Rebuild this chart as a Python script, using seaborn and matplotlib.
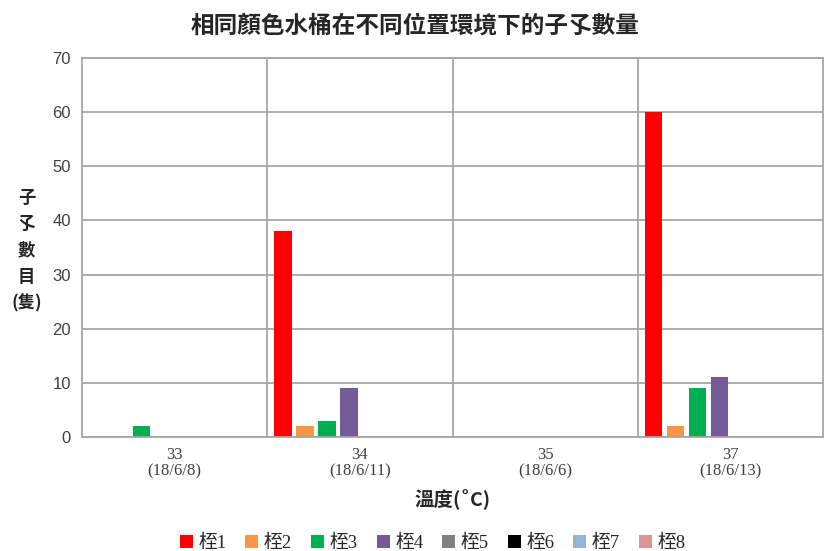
import matplotlib
matplotlib.use("Agg")
import matplotlib.pyplot as plt
import seaborn as sns
import pandas as pd

# Data
categories = ["33\n(18/6/8)", "34\n(18/6/11)", "35\n(18/6/6)", "37\n(18/6/13)"]
series = ["桎1", "桎2", "桎3", "桎4", "桎5", "桎6", "桎7", "桎8"]
values = {
    "桎1": [0, 38, 0, 60],
    "桎2": [0, 2, 0, 2],
    "桎3": [2, 3, 0, 9],
    "桎4": [0, 9, 0, 11],
    "桎5": [0, 0, 0, 0],
    "桎6": [0, 0, 0, 0],
    "桎7": [0, 0, 0, 0],
    "桎8": [0, 0, 0, 0],
}
colors = ["#FF0000", "#F79646", "#00B050", "#735B97",
          "#808080", "#000000", "#95B3D7", "#D99694"]
yticks = [0, 10, 20, 30, 40, 50, 60, 70]

rows = [(c, s, values[s][i]) for s in series for i, c in enumerate(categories)]
df = pd.DataFrame(rows, columns=["cat", "series", "value"])

sns.set_theme(style="white")
plt.rcParams["font.family"] = ["Liberation Serif", "Noto Sans CJK TC"]

fig = plt.figure(figsize=(8.29, 5.51), dpi=100)
ax = fig.add_axes([0.0989, 0.2069, 0.8939, 0.6878])

sns.barplot(data=df, x="cat", y="value", hue="series", order=categories,
            hue_order=series, palette=colors, width=0.95, gap=0.2,
            saturation=1, linewidth=0, ax=ax, legend=True)

grid_c = "#A6A6A6"
ax.set_ylim(0, 70)
ax.set_xlim(-0.5, len(categories) - 0.5)
ax.set_yticks(yticks)
ax.yaxis.grid(True, color=grid_c, linewidth=1.3)
ax.set_axisbelow(True)
for x in [0.5, 1.5, 2.5]:
    ax.axvline(x, color=grid_c, linewidth=1.3, zorder=0.5)
for side in ["left", "right", "bottom", "top"]:
    ax.spines[side].set_visible(True)
    ax.spines[side].set_color(grid_c)
    ax.spines[side].set_linewidth(1.3)

ax.tick_params(axis="both", length=0)
ax.tick_params(axis="y", pad=8)
ax.tick_params(axis="x", pad=7)
for lbl in ax.get_yticklabels():
    lbl.set_fontfamily(["Liberation Sans", "Noto Sans CJK TC"])
    lbl.set_fontsize(12)
    lbl.set_color("#404040")
for lbl in ax.get_xticklabels():
    lbl.set_fontsize(12)
    lbl.set_color("#404040")
    lbl.set_linespacing(1.05)

ax.set_xlabel("溫度(˚C)", fontsize=14, fontweight="bold", labelpad=7,
              family=["Noto Sans CJK TC", "DejaVu Sans"])
ax.set_ylabel("")
fig.text(0.032, 0.545, "子\n孓\n數\n目\n(隻)", ha="center", va="center",
         fontsize=12.5, fontweight="bold", linespacing=1.6,
         family=["Noto Sans CJK TC", "DejaVu Sans"])

fig.text(0.5, 0.953, "相同顏色水桶在不同位置環境下的子孓數量", ha="center",
         va="center", fontsize=17, fontweight="bold",
         family=["Noto Sans CJK TC"])

handles, labels = ax.get_legend_handles_labels()
ax.get_legend().remove()
fig.legend(handles, labels, loc="center", bbox_to_anchor=(0.522, 0.013),
           ncol=8, frameon=False, fontsize=13.5, handlelength=0.7,
           handleheight=0.7, handletextpad=0.3, columnspacing=1.0)

fig.savefig("out.png", dpi=100)
